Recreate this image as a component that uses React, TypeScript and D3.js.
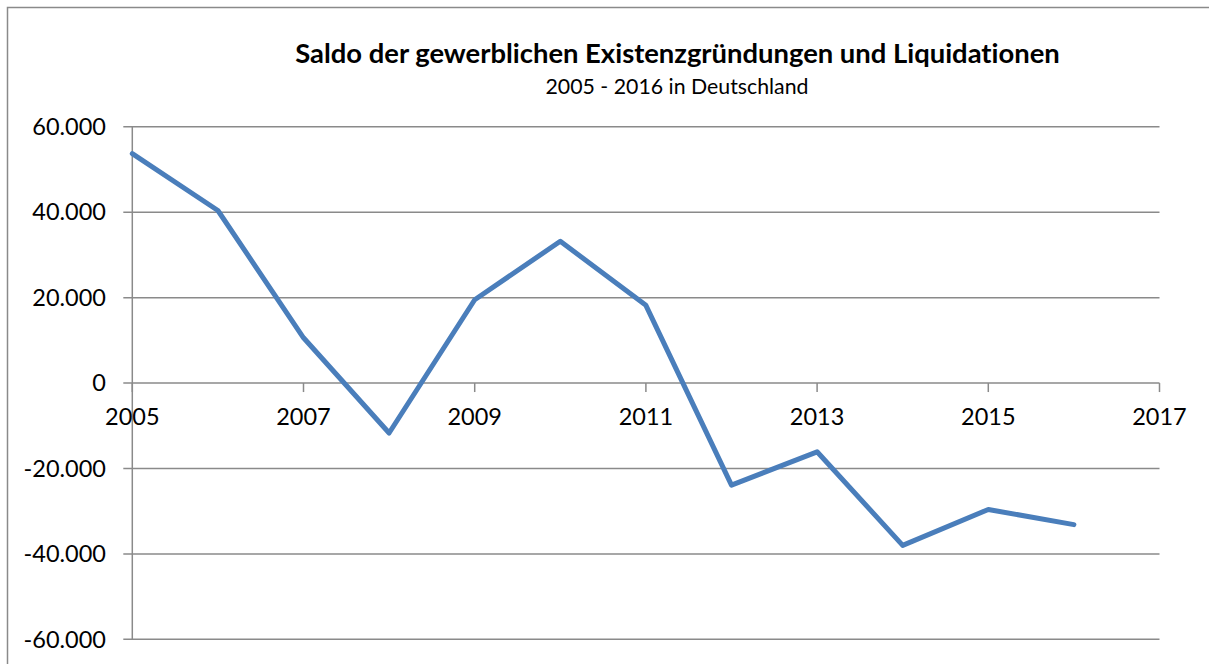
import React from "react";
import * as d3 from "d3";

const years = [2005, 2006, 2007, 2008, 2009, 2010, 2011, 2012, 2013, 2014, 2015, 2016];
const saldo = [53700, 40400, 10600, -11700, 19500, 33200, 18200, -23900, -16100, -38000, -29600, -33150];
const yTicks = [-60000, -40000, -20000, 0, 20000, 40000, 60000];
const xTicks = [2005, 2007, 2009, 2011, 2013, 2015, 2017];
const title = "Saldo der gewerblichen Existenzgründungen und Liquidationen";
const subtitle = "2005 - 2016 in Deutschland";

const W = 1209;
const H = 664;
const FONT = "Lato, 'Open Sans', sans-serif";
const textStyle = { fontVariantLigatures: "none" } as React.CSSProperties;

export default function App() {
  const x = d3.scaleLinear().domain([2005, 2017]).range([132.3, 1159.5]);
  const y = d3.scaleLinear().domain([-60000, 60000]).range([639.3, 126.8]);
  const fmt = (v: number) => d3.format(",")(v).replace(/,/g, ".").replace("−", "-");
  const line = d3
    .line<number>()
    .x((_, i) => x(years[i]))
    .y((d) => y(d));
  const grid = "#8a8a8a";
  return (
    <svg width={W} height={H} style={{ position: "absolute", left: 0, top: 0, background: "#fff" }}>
      <rect x={7.5} y={7.5} width={W + 50} height={H + 50} fill="#fff" stroke={grid} strokeWidth={1.5} />
      <text x={677.5} y={63} textAnchor="middle" fontFamily={FONT} fontWeight="bold" fontSize={27.4} fill="#000" style={textStyle}>
        {title}
      </text>
      <text x={677} y={93.5} textAnchor="middle" fontFamily={FONT} fontSize={21.3} fill="#000" style={textStyle}>
        {subtitle}
      </text>
      {yTicks.map((t) => (
        <g key={t}>
          <line x1={123.3} x2={x(2017)} y1={y(t)} y2={y(t)} stroke={grid} strokeWidth={1.5} />
          <text x={106} y={y(t)} dy="0.35em" textAnchor="end" fontFamily={FONT} fontSize={23.5} fill="#000" style={textStyle}>
            {fmt(t)}
          </text>
        </g>
      ))}
      <line x1={x(2005)} x2={x(2005)} y1={y(60000)} y2={y(-60000)} stroke={grid} strokeWidth={1.5} />
      {xTicks.map((t) => (
        <g key={t}>
          <line x1={x(t)} x2={x(t)} y1={y(0)} y2={y(0) + 9} stroke={grid} strokeWidth={1.5} />
          <text x={x(t)} y={425} textAnchor="middle" fontFamily={FONT} fontSize={23.5} fill="#000" style={textStyle}>
            {t}
          </text>
        </g>
      ))}
      <path
        d={line(saldo) || ""}
        fill="none"
        stroke="#4a7ebb"
        strokeWidth={5}
        strokeLinejoin="round"
        strokeLinecap="round"
      />
    </svg>
  );
}
